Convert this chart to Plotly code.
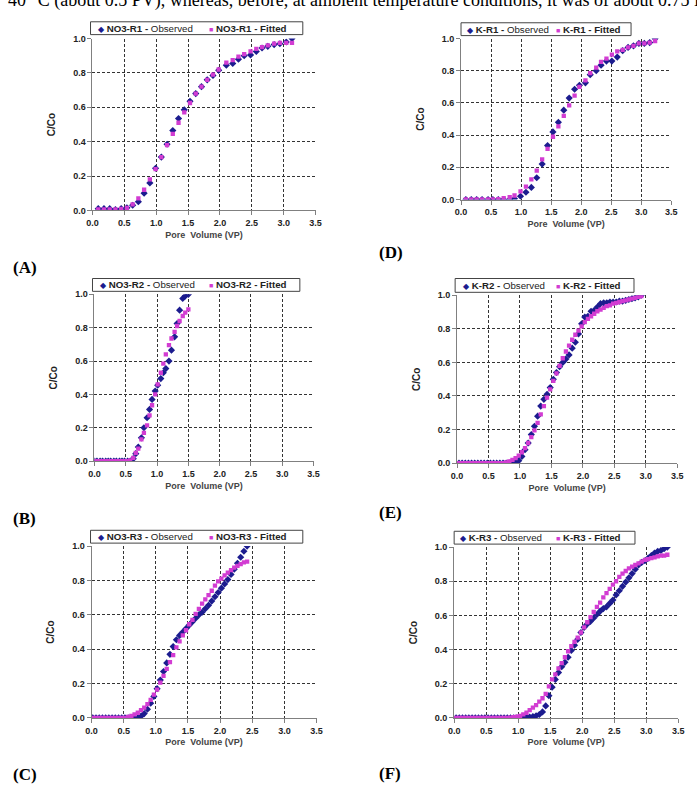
import plotly.graph_objects as go

# ---------------- data ----------------
# (A) NO3-R1
xA = [0.09,0.18,0.27,0.36,0.45,0.54,0.63,0.72,0.81,0.90,0.99,1.08,1.17,1.26,1.35,1.44,1.53,1.62,1.71,1.80,1.89,1.98,2.10,2.20,2.29,2.38,2.48,2.57,2.66,2.75,2.85,2.94,3.04,3.13]
obsA = [0.01,0.01,0.01,0.005,0.01,0.015,0.03,0.05,0.10,0.16,0.245,0.31,0.385,0.465,0.535,0.585,0.635,0.68,0.72,0.76,0.785,0.815,0.845,0.855,0.88,0.90,0.905,0.925,0.945,0.955,0.965,0.97,0.98,1.0]
fitA = [0.005,0.005,0.005,0.005,0.008,0.015,0.035,0.07,0.12,0.18,0.24,0.31,0.38,0.445,0.51,0.57,0.625,0.68,0.72,0.76,0.79,0.82,0.86,0.875,0.895,0.91,0.925,0.94,0.95,0.96,0.97,0.975,0.975,0.975]

# (B) NO3-R2
xB = [0.00,0.04,0.09,0.13,0.18,0.22,0.26,0.31,0.35,0.40,0.44,0.48,0.53,0.57,0.62,0.66,0.70,0.75,0.79,0.84,0.88,0.92,0.97,1.01,1.06,1.10,1.14,1.19,1.23,1.28,1.32,1.36,1.41,1.45,1.50]
obsB = [0,0,0,0,0,0,0,0,0,0,0,0,0.0,0.0,0.015,0.045,0.085,0.14,0.20,0.26,0.31,0.37,0.42,0.455,0.495,0.53,0.555,0.60,0.665,0.745,0.825,0.905,0.975,0.99,1.0]
fitB = [0,0,0,0,0,0,0,0,0,0,0,0,0.0,0.005,0.02,0.05,0.075,0.13,0.17,0.215,0.275,0.335,0.40,0.46,0.53,0.585,0.64,0.695,0.735,0.775,0.81,0.84,0.87,0.89,0.91]

# (C) NO3-R3
xC = [0.02,0.07,0.12,0.17,0.22,0.27,0.32,0.37,0.42,0.47,0.52,0.57,0.62,0.67,0.72,0.77,0.82,0.87,0.92,0.97,
      1.02,1.07,1.12,1.17,1.22,1.27,1.32,1.37,1.42,1.47,1.52,1.57,1.62,1.67,1.72,1.77,1.82,1.87,1.92,1.97,
      2.02,2.07,2.12,2.17,2.22,2.27,2.32,2.37,2.42]
obsC = [0,0,0,0,0,0,0,0,0,0,0,0,0,0,0,0.01,0.025,0.05,0.085,0.125,
        0.17,0.22,0.27,0.32,0.37,0.415,0.455,0.48,0.50,0.52,0.54,0.56,0.58,0.60,0.615,0.635,0.655,0.68,0.705,0.73,
        0.755,0.78,0.805,0.835,0.865,0.90,0.935,0.97,1.0]
fitC = [0,0,0,0,0,0,0,0,0,0,0,0.005,0.012,0.02,0.03,0.045,0.06,0.08,0.105,0.135,
        0.165,0.205,0.245,0.285,0.325,0.365,0.41,0.445,0.48,0.51,0.545,0.57,0.605,0.635,0.665,0.69,0.715,0.74,0.77,0.795,
        0.81,0.83,0.845,0.86,0.875,0.885,0.895,0.905,0.91]

# (D) K-R1
xD = [0.08,0.17,0.26,0.35,0.45,0.53,0.62,0.71,0.81,0.89,0.99,1.08,1.17,1.26,1.35,1.44,1.53,1.62,1.71,1.80,1.89,1.97,2.07,2.15,2.25,2.33,2.42,2.51,2.60,2.69,2.78,2.87,2.96,3.05,3.14,3.23]
obsD = [0,0,0,0,0,0,0,0,0,0.005,0.02,0.045,0.075,0.135,0.22,0.335,0.42,0.48,0.555,0.63,0.685,0.71,0.725,0.775,0.80,0.835,0.86,0.86,0.885,0.925,0.945,0.955,0.97,0.97,0.975,1.0]
fitD = [0,0,0,0,0,0,0.003,0.008,0.015,0.025,0.05,0.08,0.125,0.18,0.25,0.315,0.39,0.455,0.52,0.585,0.645,0.70,0.74,0.785,0.82,0.855,0.875,0.90,0.92,0.93,0.945,0.955,0.97,0.97,0.975,0.985]

# (E) K-R2
xE = [0.03,0.08,0.13,0.18,0.23,0.28,0.33,0.38,0.43,0.48,0.53,0.58,0.63,0.68,0.73,0.78,0.83,0.88,0.93,0.98,
      1.03,1.08,1.13,1.18,1.23,1.28,1.33,1.38,1.43,1.48,1.53,1.58,1.63,1.68,1.73,1.78,1.83,1.88,1.93,1.98,
      2.03,2.08,2.13,2.18,2.23,2.28,2.33,2.38,2.43,2.48,2.53,2.58,2.63,2.68,2.73,2.78,2.83,2.88,2.93]
obsE = [0,0,0,0,0,0,0,0,0,0,0,0,0,0,0,0,0,0,0.005,0.015,
        0.04,0.08,0.12,0.17,0.22,0.28,0.34,0.38,0.41,0.45,0.50,0.54,0.575,0.60,0.62,0.645,0.685,0.72,0.77,0.83,
        0.87,0.875,0.905,0.91,0.93,0.95,0.955,0.955,0.96,0.96,0.96,0.965,0.965,0.97,0.975,0.98,0.985,0.99,1.0]
fitE = [0,0,0,0,0,0,0,0,0,0,0,0,0,0,0,0.005,0.01,0.02,0.03,0.045,
        0.065,0.09,0.12,0.155,0.195,0.24,0.29,0.34,0.39,0.44,0.49,0.535,0.58,0.625,0.665,0.70,0.735,0.765,0.79,0.815,
        0.84,0.86,0.875,0.89,0.905,0.915,0.925,0.935,0.94,0.95,0.955,0.96,0.965,0.97,0.975,0.98,0.985,0.99,0.995]

# (F) K-R3
xF = [0.03,0.08,0.13,0.18,0.23,0.28,0.33,0.38,0.43,0.48,0.53,0.58,0.63,0.68,0.73,0.78,0.83,0.88,0.93,0.98,
      1.03,1.08,1.13,1.18,1.23,1.28,1.33,1.38,1.43,1.48,1.53,1.58,1.63,1.68,1.73,1.78,1.83,1.88,1.93,1.98,
      2.03,2.08,2.13,2.18,2.23,2.28,2.33,2.38,2.43,2.48,2.53,2.58,2.63,2.68,2.73,2.78,2.83,2.88,2.93,2.98,
      3.03,3.08,3.13,3.18,3.23,3.28,3.33]
obsF = [0,0,0,0,0,0,0,0,0,0,0,0,0,0,0,0,0,0,0,0,
        0,0,0.003,0.005,0.008,0.012,0.02,0.035,0.07,0.13,0.18,0.225,0.265,0.30,0.325,0.355,0.395,0.425,0.46,0.50,
        0.53,0.55,0.565,0.585,0.605,0.625,0.64,0.65,0.67,0.69,0.72,0.745,0.77,0.795,0.82,0.845,0.87,0.895,0.91,0.92,
        0.935,0.95,0.965,0.975,0.98,0.99,1.0]
fitF = [0,0,0,0,0,0,0,0,0,0,0,0,0,0,0,0,0,0.002,0.004,0.007,
        0.012,0.02,0.03,0.045,0.06,0.075,0.095,0.115,0.14,0.185,0.225,0.255,0.29,0.32,0.355,0.39,0.42,0.445,0.47,0.50,
        0.53,0.56,0.59,0.62,0.65,0.675,0.705,0.73,0.755,0.78,0.80,0.825,0.845,0.86,0.875,0.885,0.895,0.905,0.915,0.925,
        0.93,0.935,0.94,0.945,0.95,0.95,0.955]

series_names = ["NO3-R1", "NO3-R2", "NO3-R3", "K-R1", "K-R2", "K-R3"]
panel_labels = ["(A)", "(B)", "(C)", "(D)", "(E)", "(F)"]
x_ticks = [0.0, 0.5, 1.0, 1.5, 2.0, 2.5, 3.0, 3.5]
y_ticks = [0.0, 0.2, 0.4, 0.6, 0.8, 1.0]
top_text = "40 °C (about 0.5 PV), whereas, before, at ambient temperature conditions, it was of about 0.75 PV"

panels = [
    (xA, obsA, fitA), (xB, obsB, fitB), (xC, obsC, fitC),
    (xD, obsD, fitD), (xE, obsE, fitE), (xF, obsF, fitF),
]

# ---------------- layout geometry (pixels) ----------------
W, H = 697, 792
# plot area boxes: left, right, top, bottom
boxes = [
    (88, 315, 34, 208), (90, 313, 293, 462), (87, 316, 548, 722),
    (463, 677, 34, 197), (459, 683, 294, 464), (456, 684, 549, 722),
]
# legend boxes: left, right, top, bottom, observed-entry x, fitted-entry x
legend_boxes = [
    (86, 302, 17, 30, 92, 205), (88, 299, 277, 290, 94, 205), (86, 302, 532, 545, 92, 205),
    (463, 636, 18, 31, 467, 558), (457, 639, 277, 291, 463, 558), (456, 640, 533, 546, 460, 558),
]
label_pos = [(5, 266), (5, 520), (5, 779), (378, 251), (378, 514), (378, 778)]

OBS_COLOR = "#1c1c8f"
FIT_COLOR = "#d23cd2"
SANS = "Arial, Liberation Sans, sans-serif"
SERIF = "Liberation Serif, Times New Roman, serif"

fig = go.Figure()
layout = dict(
    width=W, height=H, margin=dict(l=0, r=0, t=0, b=0),
    paper_bgcolor="white", plot_bgcolor="white", showlegend=False,
    font=dict(family=SANS, color="#222"),
)

annotations = []
shapes = []
for i, ((xs, obs, fit), name, box) in enumerate(zip(panels, series_names, boxes)):
    n = i + 1
    xa = "x" if n == 1 else f"x{n}"
    ya = "y" if n == 1 else f"y{n}"
    fig.add_trace(go.Scatter(
        x=xs, y=obs, mode="markers", xaxis=xa, yaxis=ya,
        name=f"{name} - Observed",
        marker=dict(symbol="diamond", size=5.5, color=OBS_COLOR),
    ))
    fig.add_trace(go.Scatter(
        x=xs, y=fit, mode="markers", xaxis=xa, yaxis=ya,
        name=f"{name} - Fitted",
        marker=dict(symbol="square", size=4.3, color=FIT_COLOR),
    ))
    l, r, t, b = box
    xkey = "xaxis" if n == 1 else f"xaxis{n}"
    ykey = "yaxis" if n == 1 else f"yaxis{n}"
    common = dict(
        showline=True, linecolor="#808080", linewidth=1,
        ticks="outside", ticklen=4, tickcolor="#808080",
        showgrid=True, gridcolor="#333333", griddash="3px,2px", gridwidth=1,
        zeroline=False, tickformat=".1f",
        tickfont=dict(size=9, weight="bold", color="#222"),
    )
    layout[xkey] = dict(
        common, domain=[l / W, r / W], anchor=ya, range=[0, 3.5],
        tickvals=x_ticks,
        title=dict(text="Pore\u00a0 Volume (VP)", font=dict(size=9, weight="bold", color="#444"), standoff=4),
    )
    layout[ykey] = dict(
        common, domain=[1 - b / H, 1 - t / H], anchor=xa, range=[0, 1.0],
        tickvals=y_ticks,
        title=dict(text="C/Co", font=dict(size=10, weight="bold", color="#222"), standoff=15),
    )

    # legend box drawn as a framed box with real text entries
    ll, lr, lt, lb, ox, fx = legend_boxes[i]
    shapes.append(dict(
        type="rect", xref="paper", yref="paper",
        x0=ll / W, x1=lr / W, y0=1 - lb / H, y1=1 - lt / H,
        line=dict(color="#444", width=1), fillcolor="white", layer="above",
    ))
    ymid = 1 - (lt + lb) / 2 / H
    annotations.append(dict(
        text=f"<span style='color:{OBS_COLOR};font-size:8px'>◆</span> <b>{name} -</b> Observed",
        x=ox / W, y=ymid, xref="paper", yref="paper", xanchor="left", yanchor="middle",
        showarrow=False, font=dict(family=SANS, size=9.7, color="#222"),
    ))
    annotations.append(dict(
        text=f"<span style='color:{FIT_COLOR};font-size:7px'>■</span> <b>{name} - Fitted</b>",
        x=fx / W, y=ymid, xref="paper", yref="paper", xanchor="left", yanchor="middle",
        showarrow=False, font=dict(family=SANS, size=9.7, color="#222"),
    ))

    px, py = label_pos[i]
    annotations.append(dict(
        text=panel_labels[i], x=px / W, y=1 - py / H, xref="paper", yref="paper",
        xanchor="left", yanchor="middle", showarrow=False,
        font=dict(family=SERIF, size=17, weight="bold", color="black"),
    ))

annotations.append(dict(
    text=top_text, x=0, y=1 + 5 / H, xref="paper", yref="paper",
    xanchor="left", yanchor="middle", showarrow=False,
    font=dict(family=SERIF, size=18, color="black"),
))
layout["annotations"] = annotations
layout["shapes"] = shapes
fig.update_layout(**layout)
fig.write_html("out.html")
